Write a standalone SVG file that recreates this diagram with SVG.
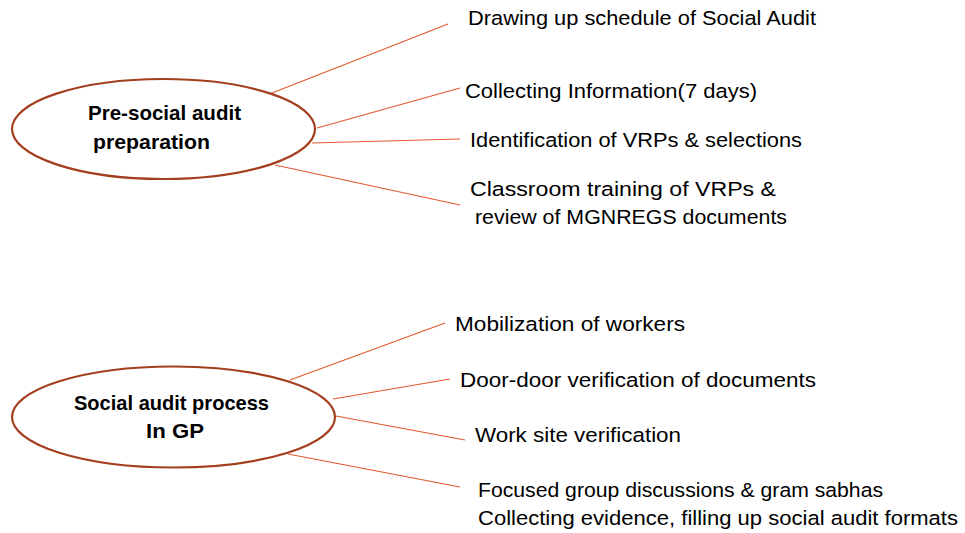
<svg xmlns="http://www.w3.org/2000/svg" width="965" height="533" viewBox="0 0 965 533">
<style>
.ell{fill:#fff;stroke:#A33E1E;stroke-width:2.2}
.con{stroke:#E2592F;stroke-width:1.2;fill:none}
.t{font-family:"Liberation Sans",Arial,sans-serif;font-size:20.5px;fill:#000}
.b{font-family:"Liberation Sans",Arial,sans-serif;font-size:20.5px;font-weight:bold;fill:#000}
</style>
<rect width="965" height="533" fill="#fff"/>
<g id="connectors">
<line class="con" x1="272" y1="93" x2="448" y2="24"/>
<line class="con" x1="317" y1="128" x2="460" y2="88"/>
<line class="con" x1="312" y1="143" x2="460" y2="139"/>
<line class="con" x1="275" y1="165" x2="460" y2="205"/>
<line class="con" x1="290" y1="380" x2="445" y2="323"/>
<line class="con" x1="333" y1="399" x2="450" y2="379"/>
<line class="con" x1="336" y1="416" x2="465" y2="440"/>
<line class="con" x1="288" y1="454" x2="460" y2="487"/>
</g>
<g id="node-pre">
<ellipse class="ell" cx="163.5" cy="129" rx="151.5" ry="50"/>
<text class="b" x="88" y="120" textLength="153" lengthAdjust="spacingAndGlyphs">Pre-social audit</text>
<text class="b" x="93" y="149" textLength="117" lengthAdjust="spacingAndGlyphs">preparation</text>
</g>
<g id="node-process">
<ellipse class="ell" cx="173.5" cy="417" rx="161.5" ry="50.5"/>
<text class="b" x="74" y="410" textLength="195" lengthAdjust="spacingAndGlyphs">Social audit process</text>
<text class="b" x="146" y="438" textLength="58" lengthAdjust="spacingAndGlyphs">In GP</text>
</g>
<g id="item-1"><text class="t" x="468" y="25" textLength="348" lengthAdjust="spacingAndGlyphs">Drawing up schedule of Social Audit</text></g>
<g id="item-2"><text class="t" x="465" y="98" textLength="292" lengthAdjust="spacingAndGlyphs">Collecting Information(7 days)</text></g>
<g id="item-3"><text class="t" x="470" y="147" textLength="332" lengthAdjust="spacingAndGlyphs">Identification of VRPs &amp; selections</text></g>
<g id="item-4">
<text class="t" x="470" y="196" textLength="306" lengthAdjust="spacingAndGlyphs">Classroom training of VRPs &amp;</text>
<text class="t" x="475" y="224" textLength="312" lengthAdjust="spacingAndGlyphs">review of MGNREGS documents</text>
</g>
<g id="item-5"><text class="t" x="455" y="331" textLength="230" lengthAdjust="spacingAndGlyphs">Mobilization of workers</text></g>
<g id="item-6"><text class="t" x="460" y="387" textLength="356" lengthAdjust="spacingAndGlyphs">Door-door verification of documents</text></g>
<g id="item-7"><text class="t" x="475" y="442" textLength="206" lengthAdjust="spacingAndGlyphs">Work site verification</text></g>
<g id="item-8">
<text class="t" x="478" y="497" textLength="405" lengthAdjust="spacingAndGlyphs">Focused group discussions &amp; gram sabhas</text>
<text class="t" x="478" y="525" textLength="480" lengthAdjust="spacingAndGlyphs">Collecting evidence, filling up social audit formats</text>
</g>
</svg>
